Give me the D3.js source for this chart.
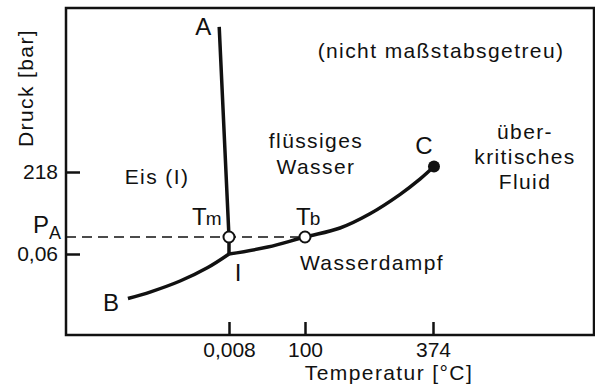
<!DOCTYPE html>
<html>
<head>
<meta charset="utf-8">
<script src="https://cdn.jsdelivr.net/npm/d3@7"></script>
<style>
  body { margin: 0; background: #fff; }
  svg text { font-family: "Liberation Sans", Arial, sans-serif; fill: #111; }
  .lbl { font-size: 21px; letter-spacing: 1.4px; }
  .big { font-size: 24px; }
  .axis text { font-size: 21px; }
</style>
</head>
<body>
<div id="chart"></div>
<script>
// Axis ticks (diagram is not to scale)
var tempTicks = [0.008, 100, 374];
var tempTickLabels = ["0,008", "100", "374"];
var pressTicks = [0.06, 218];
var pressTickLabels = ["0,06", "218"];

// Breakpoints of the schematic axes
var tempBreaks = [-100, 0.008, 100, 374, 700];
var pressBreaks = [0, 0.06, 1.013, 218, 400];

// Phase boundaries as [temperature °C, pressure bar]
var sublimationCurve = [[-62, 0.027], [-48, 0.032], [-30, 0.04], [-13, 0.05], [0.008, 0.06]];
var meltingCurve = [[0.008, 0.06], [0, 1.013], [-6, 379]];
var boilingCurve = [[0.008, 0.06], [51, 0.45], [100, 1.013], [175, 31], [239, 78.5], [303, 142.5], [346, 194], [376, 224]];

// Marked points
var ambientPressure = 1.013; // P_A
var openPoints = [[0, 1.013], [100, 1.013]];
var openLabels = ["m", "b"];
var criticalPoint = [376, 224];

var svg = d3.select("#chart").append("svg").attr("width", 595).attr("height", 389);

var margin = { top: 8, right: 1, bottom: 54, left: 66 };
var width = +svg.attr("width") - margin.left - margin.right;
var height = +svg.attr("height") - margin.top - margin.bottom;

var x = d3.scaleLinear().domain(tempBreaks).range([0, 163, 239, 367, width]);
var y = d3.scaleLinear().domain(pressBreaks).range([height, 246, 229, 164, 0]);

var g = svg.append("g").attr("transform", "translate(" + margin.left + "," + margin.top + ")");

// Axes with inward ticks
g.append("g")
  .attr("class", "axis")
  .attr("transform", "translate(0," + height + ")")
  .call(d3.axisBottom(x).tickValues(tempTicks)
    .tickFormat(function (d, i) { return tempTickLabels[i]; })
    .tickSize(-13).tickSizeOuter(0).tickPadding(7));
g.append("g")
  .attr("class", "axis")
  .call(d3.axisLeft(y).tickValues(pressTicks)
    .tickFormat(function (d, i) { return pressTickLabels[i]; })
    .tickSize(-14).tickSizeOuter(0).tickPadding(8));
g.selectAll(".axis .domain").remove();
g.selectAll(".axis line").attr("stroke", "#111").attr("stroke-width", 2.5);
g.selectAll(".axis text").attr("fill", "#111").style("font-family", "Liberation Sans, Arial, sans-serif");

// Frame
g.append("rect")
  .attr("width", width).attr("height", height)
  .attr("fill", "none").attr("stroke", "#111").attr("stroke-width", 2.5);

// Dashed line at P_A up to the boiling point
g.append("line")
  .attr("x1", 0).attr("x2", x(openPoints[1][0]))
  .attr("y1", y(ambientPressure)).attr("y2", y(ambientPressure))
  .attr("stroke", "#111").attr("stroke-width", 1.6).attr("stroke-dasharray", "10,6");

// Phase boundary curves
var smooth = d3.line()
  .x(function (d) { return x(d[0]); })
  .y(function (d) { return y(d[1]); })
  .curve(d3.curveCatmullRom.alpha(0.5));
var straight = d3.line()
  .x(function (d) { return x(d[0]); })
  .y(function (d) { return y(d[1]); });

[[sublimationCurve, smooth], [boilingCurve, smooth], [meltingCurve, straight]].forEach(function (c) {
  g.append("path")
    .attr("d", c[1](c[0]))
    .attr("fill", "none").attr("stroke", "#111")
    .attr("stroke-width", 3.5).attr("stroke-linejoin", "round");
});

// Open circles Tm, Tb
g.selectAll(".open")
  .data(openPoints)
  .enter().append("circle")
  .attr("class", "open")
  .attr("cx", function (d) { return x(d[0]); })
  .attr("cy", function (d) { return y(d[1]); })
  .attr("r", 5.5)
  .attr("fill", "#fff").attr("stroke", "#111").attr("stroke-width", 2);

// Critical point
g.append("circle")
  .attr("cx", x(criticalPoint[0])).attr("cy", y(criticalPoint[1]))
  .attr("r", 6).attr("fill", "#111");

// Point labels
openPoints.forEach(function (d, i) {
  var t = g.append("text")
    .attr("class", "big")
    .attr("x", x(d[0]) - 37 + i * 28)
    .attr("y", y(d[1]) - 12);
  t.append("tspan").text("T");
  t.append("tspan").style("font-size", "19px").attr("dx", -1).text(openLabels[i]);
});

var end = meltingCurve[meltingCurve.length - 1];
g.append("text").attr("class", "big").attr("text-anchor", "middle")
  .attr("x", x(end[0]) - 16).attr("y", y(end[1]) + 8).text("A");
g.append("text").attr("class", "big").attr("text-anchor", "end")
  .attr("x", x(sublimationCurve[0][0]) - 9).attr("y", y(sublimationCurve[0][1]) + 12).text("B");
g.append("text").attr("class", "big").attr("text-anchor", "middle")
  .attr("x", x(criticalPoint[0]) - 10).attr("y", y(criticalPoint[1]) - 13).text("C");
g.append("text").attr("class", "big").attr("text-anchor", "middle")
  .attr("x", x(0.008) + 9).attr("y", y(0.06) + 27).text("I");

// P_A label
var pa = svg.append("text").attr("class", "big").attr("x", 33).attr("y", margin.top + y(ambientPressure) - 4);
pa.append("tspan").text("P");
pa.append("tspan").style("font-size", "18px").attr("dy", 6).text("A");

// Region labels
function label(lines, cx, cy, lh) {
  var t = svg.append("text").attr("class", "lbl").attr("text-anchor", "middle");
  lines.forEach(function (s, i) {
    t.append("tspan").attr("x", cx).attr("y", cy + i * lh).text(s);
  });
}
label(["(nicht maßstabsgetreu)"], 441, 58, 0);
label(["Eis (I)"], 157, 184, 0);
label(["flüssiges", "Wasser"], 316, 148, 26);
label(["über-", "kritisches", "Fluid"], 525, 139, 25);
label(["Wasserdampf"], 372, 270, 0);

// Axis titles
label(["Temperatur [°C]"], 389, 380, 0);
svg.append("text")
  .attr("class", "lbl")
  .attr("text-anchor", "middle")
  .attr("transform", "translate(33,88) rotate(-90)")
  .text("Druck [bar]");
</script>
</body>
</html>
